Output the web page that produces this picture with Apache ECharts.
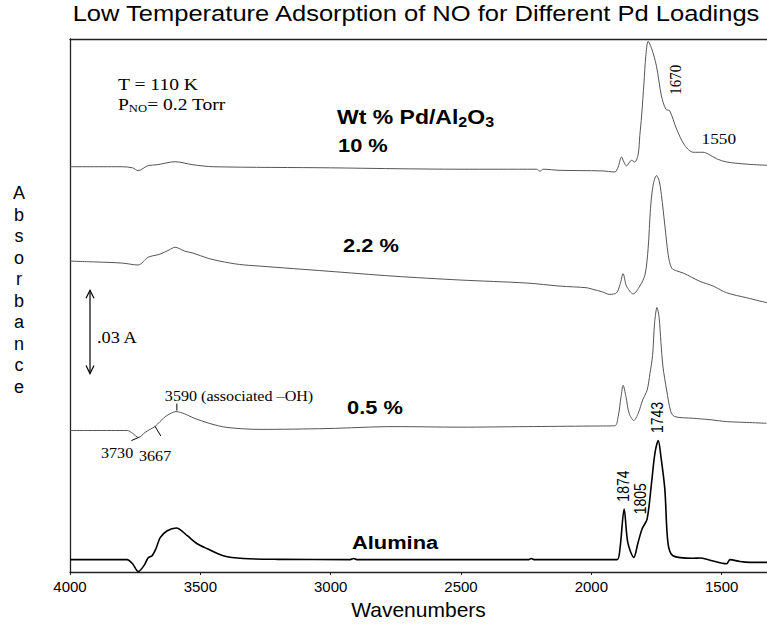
<!DOCTYPE html>
<html>
<head>
<meta charset="utf-8">
<script src="https://cdn.jsdelivr.net/npm/echarts@6/dist/echarts.min.js"></script>
<style>
  html, body { margin: 0; padding: 0; background: #fff; }
  #chart { width: 767px; height: 625px; }
</style>
</head>
<body>
<div id="chart"></div>
<script>
// Wavenumber ticks (cm-1) on the reversed x axis
const xTicks = [4000, 3500, 3000, 2500, 2000, 1500];

// Spectrum names, top to bottom
const loadings = ['10 %', '2.2 %', '0.5 %', 'Alumina'];
// Vertical offsets used to stack the spectra (absorbance units)
const traceOffsets = [0.146, 0.112, 0.051, 0.0045];

// 10 wt% Pd/Al2O3
const wn10 = [4000, 3800, 3760, 3739, 3700, 3666, 3597, 3528, 3451, 3000, 2761, 2500, 2210, 2197, 2185, 2120, 1960, 1910, 1897, 1884, 1875, 1865, 1846, 1833, 1820, 1814, 1807, 1798, 1791, 1782, 1769, 1750, 1731, 1714, 1699, 1673, 1641, 1609, 1571, 1552, 1520, 1481, 1400, 1326];
const abs10 = [0, 0, -0.0004, -0.0014, 0.0004, 0.0007, 0.0018, 0.0007, 0, -0.0004, -0.0007, -0.0009, -0.0009, -0.0016, -0.0009, -0.0013, -0.0015, -0.0019, -0.0001, 0.0035, 0.0017, 0.0003, 0.0023, 0.0017, 0.0046, 0.0112, 0.0183, 0.0302, 0.0398, 0.0451, 0.0427, 0.0362, 0.0255, 0.0207, 0.0201, 0.0136, 0.0076, 0.0052, 0.0052, 0.0046, 0.0029, 0.0017, 0.0009, 0.0005];

// 2.2 wt% Pd/Al2O3
const wn22 = [4000, 3900, 3800, 3739, 3700, 3655, 3620, 3597, 3560, 3528, 3470, 3425, 3350, 3271, 3014, 2761, 2504, 2247, 2120, 2017, 1993, 1960, 1929, 1903, 1890, 1878, 1865, 1839, 1814, 1794, 1782, 1773, 1763, 1750, 1740, 1731, 1718, 1705, 1692, 1673, 1647, 1583, 1532, 1481, 1404, 1326];
const abs22 = [0, -0.0003, -0.0007, -0.0014, 0.0014, 0.0025, 0.004, 0.005, 0.0036, 0.0029, 0.001, 0, -0.0012, -0.0018, -0.0036, -0.0054, -0.0068, -0.0079, -0.009, -0.0096, -0.0102, -0.011, -0.012, -0.0114, -0.0085, -0.0045, -0.009, -0.0118, -0.009, -0.0049, 0.0046, 0.0189, 0.0273, 0.0308, 0.029, 0.0237, 0.013, 0.0023, -0.0025, -0.0035, -0.0043, -0.0073, -0.009, -0.0114, -0.0132, -0.015];

// 0.5 wt% Pd/Al2O3
const wn05 = [4000, 3780, 3760, 3737, 3712, 3693, 3674, 3655, 3628, 3593, 3560, 3528, 3463, 3398, 3271, 3014, 2761, 2500, 2250, 2000, 1910, 1897, 1886, 1878, 1867, 1855, 1837, 1820, 1803, 1786, 1775, 1765, 1757, 1748, 1740, 1733, 1725, 1711, 1695, 1680, 1609, 1545, 1481, 1404, 1328];
const abs05 = [0, 0, -0.001, -0.0025, -0.0007, 0.0004, 0.0014, 0.0032, 0.0054, 0.0068, 0.006, 0.0046, 0.0025, 0.0011, 0.0004, 0.0007, 0.0014, 0.0012, 0.0014, 0.0016, 0.0017, 0.005, 0.0121, 0.0163, 0.0121, 0.0062, 0.0036, 0.0062, 0.011, 0.0145, 0.0205, 0.027, 0.039, 0.0443, 0.0407, 0.0318, 0.0229, 0.0145, 0.0068, 0.005, 0.0044, 0.0039, 0.0032, 0.0029, 0.0026];

// Bare alumina support
const wnAl = [4000, 3800, 3781, 3760, 3738, 3715, 3700, 3685, 3670, 3654, 3627, 3592, 3550, 3512, 3473, 3412, 3335, 3200, 2925, 2912, 2900, 2500, 2240, 2231, 2220, 1950, 1901, 1890, 1874, 1860, 1837, 1821, 1805, 1786, 1769, 1756, 1743, 1733, 1718, 1706, 1687, 1610, 1583, 1545, 1481, 1468, 1430, 1392, 1326];
const absAl = [0, 0, 0, -0.0015, -0.0043, -0.002, 0.0007, 0.0014, 0.004, 0.0079, 0.0104, 0.0114, 0.0086, 0.0057, 0.0039, 0.0014, 0.0004, 0.0001, 0, 0.0004, 0, 0, 0, 0.0004, 0, 0, 0, 0.004, 0.0182, 0.0061, 0.0008, 0.006, 0.0111, 0.0146, 0.0276, 0.0383, 0.0429, 0.0371, 0.0254, 0.006, 0.0014, 0.0005, 0.0006, -0.0002, -0.0015, 0, -0.0007, -0.001, -0.001];

const spectraWn = [wn10, wn22, wn05, wnAl];
const spectraAbs = [abs10, abs22, abs05, absAl];

// Scale bar: 0.03 absorbance units
const scaleBarBase = 0.0715;
const scaleBarSize = 0.03;

const sans = '"Liberation Sans", Arial, Helvetica, sans-serif';
const serif = '"Liberation Serif", "Times New Roman", Times, serif';
const STRETCH = 1.15;

const chart = echarts.init(document.getElementById('chart'), null, { renderer: 'svg' });

const series = loadings.map((name, k) => ({
  name: name,
  type: 'line',
  showSymbol: false,
  smooth: 0.3,
  animation: false,
  lineStyle: k === 3 ? { color: '#000', width: 1.6 } : { color: '#555', width: 1 },
  data: spectraWn[k].map((w, i) => [w, spectraAbs[k][i] + traceOffsets[k]])
}));

chart.setOption({
  animation: false,
  grid: { left: 70, right: 0, top: 39, bottom: 48 },
  xAxis: [{
    type: 'value',
    inverse: true,
    min: 1326,
    max: 4000,
    splitLine: { show: false },
    axisLine: { show: true, lineStyle: { color: '#222', width: 1.3 } },
    axisTick: { show: true, length: 3, customValues: xTicks, lineStyle: { color: '#222' } },
    axisLabel: { customValues: xTicks, formatter: v => String(v), color: '#000', fontSize: 15, fontFamily: sans, margin: 7 },
    name: 'Wavenumbers',
    nameLocation: 'middle',
    nameGap: 26,
    nameTextStyle: { color: '#000', fontSize: 21, fontFamily: sans }
  }, {
    type: 'value',
    position: 'top',
    inverse: true,
    min: 1326,
    max: 4000,
    splitLine: { show: false },
    axisLine: { show: true, onZero: false, lineStyle: { color: '#222', width: 1.3 } },
    axisTick: { show: false },
    axisLabel: { show: false }
  }],
  yAxis: {
    type: 'value',
    min: 0,
    max: 0.192,
    splitLine: { show: false },
    axisLine: { show: true, lineStyle: { color: '#222', width: 1.3 } },
    axisTick: { show: false },
    axisLabel: { show: false }
  },
  series: series
});

const px = (w, a) => chart.convertToPixel({ gridIndex: 0 }, [w, a]);

function text(str, x, y, font, extra) {
  return Object.assign({
    type: 'text', x: x, y: y, scaleX: STRETCH, silent: true,
    style: { text: str, font: font, fill: '#000', align: 'left', verticalAlign: 'middle' }
  }, extra || {});
}
function vtext(str, x, y, font) {
  // reads bottom-to-top, centred on (x, y)
  return {
    type: 'text', x: x, y: y, rotation: Math.PI / 2, scaleY: STRETCH, silent: true,
    style: { text: str, font: font, fill: '#000', align: 'center', verticalAlign: 'middle' }
  };
}
function seg(x1, y1, x2, y2, w) {
  return { type: 'line', silent: true, shape: { x1: x1, y1: y1, x2: x2, y2: y2 },
    style: { stroke: '#000', lineWidth: w || 1 } };
}

const barTop = px(4000, scaleBarBase + scaleBarSize);
const barBot = px(4000, scaleBarBase);
const barX = 90;
const ohPeak = px(3590, traceOffsets[2] + 0.0068);
const p1874 = px(1874, traceOffsets[3] + 0.0182);
const p1805 = px(1805, traceOffsets[3] + 0.0111);
const p1743 = px(1743, traceOffsets[3] + 0.0429);
const p1670 = px(1670, traceOffsets[0] + 0.014);
const p1550 = px(1550, traceOffsets[0] + 0.0046);
const p3730 = px(3730, traceOffsets[2] - 0.0022);
const p3667 = px(3667, traceOffsets[2] + 0.002);

const graphics = [
  { type: 'text', x: 416, y: 13, scaleX: 1.16, silent: true,
    style: { text: 'Low Temperature Adsorption of NO for Different Pd Loadings', font: '22px ' + sans,
      fill: '#000', align: 'center', verticalAlign: 'middle' } },
  { type: 'text', x: 19, y: 290, silent: true,
    style: { text: 'Absorbance'.split('').join('\n'), font: '18px ' + sans, lineHeight: 21.5,
      fill: '#000', align: 'center', verticalAlign: 'middle' } },
  text('T = 110 K', 118, 84, '17px ' + serif),
  { type: 'text', x: 118, y: 104, scaleX: STRETCH, silent: true,
    style: { text: '{m|P}{s|NO}{m|= 0.2 Torr}', fill: '#000', align: 'left', verticalAlign: 'middle',
      rich: { m: { font: '17px ' + serif, lineHeight: 20 }, s: { font: '11px ' + serif, lineHeight: 11, verticalAlign: 'bottom' } } } },
  { type: 'text', x: 337, y: 117, scaleX: STRETCH, silent: true,
    style: { text: '{m|Wt % Pd/Al}{s|2}{m|O}{s|3}', fill: '#000', align: 'left', verticalAlign: 'middle',
      rich: { m: { font: 'bold 20px ' + sans, lineHeight: 23 }, s: { font: 'bold 14px ' + sans, lineHeight: 14, verticalAlign: 'bottom' } } } },
  text(loadings[0], 338, 145, 'bold 19px ' + sans),
  text(loadings[1], 343, 245, 'bold 19px ' + sans),
  text(loadings[2], 347, 407, 'bold 19px ' + sans),
  text(loadings[3], 352, 542, 'bold 19px ' + sans),
  text('.03 A', 97, 338, '16px ' + serif),
  seg(barX, barTop[1], barX, barBot[1], 1.2),
  { type: 'polyline', silent: true, shape: { points: [[barX - 4, barTop[1] + 8], [barX, barTop[1]], [barX + 4, barTop[1] + 8]] }, style: { stroke: '#000', lineWidth: 1.2, fill: null } },
  { type: 'polyline', silent: true, shape: { points: [[barX - 4, barBot[1] - 8], [barX, barBot[1]], [barX + 4, barBot[1] - 8]] }, style: { stroke: '#000', lineWidth: 1.2, fill: null } },
  text('3590 (associated \u2013OH)', ohPeak[0] - 12, ohPeak[1] - 15, '14px ' + serif),
  seg(ohPeak[0], ohPeak[1] - 8, ohPeak[0], ohPeak[1] - 1),
  text('3730', 101, 453, '14px ' + serif),
  seg(p3730[0] - 9, p3730[1] + 4, p3730[0] - 1, p3730[1] + 0.5),
  text('3667', 139, 456, '14px ' + serif),
  seg(p3667[0] - 2, p3667[1] + 1, p3667[0] + 4, p3667[1] + 11),
  vtext('1874', p1874[0] - 1, p1874[1] - 23, '14px ' + sans),
  vtext('1805', p1805[0] - 2, p1805[1] - 30, '14px ' + sans),
  vtext('1743', p1743[0] - 1, p1743[1] - 23, '14px ' + sans),
  vtext('1670', p1670[0] - 2, p1670[1] - 48, '15px ' + serif),
  text('1550', p1550[0] - 7, p1550[1] - 15, '15px ' + serif)
];

chart.setOption({ graphic: graphics });
</script>
</body>
</html>
